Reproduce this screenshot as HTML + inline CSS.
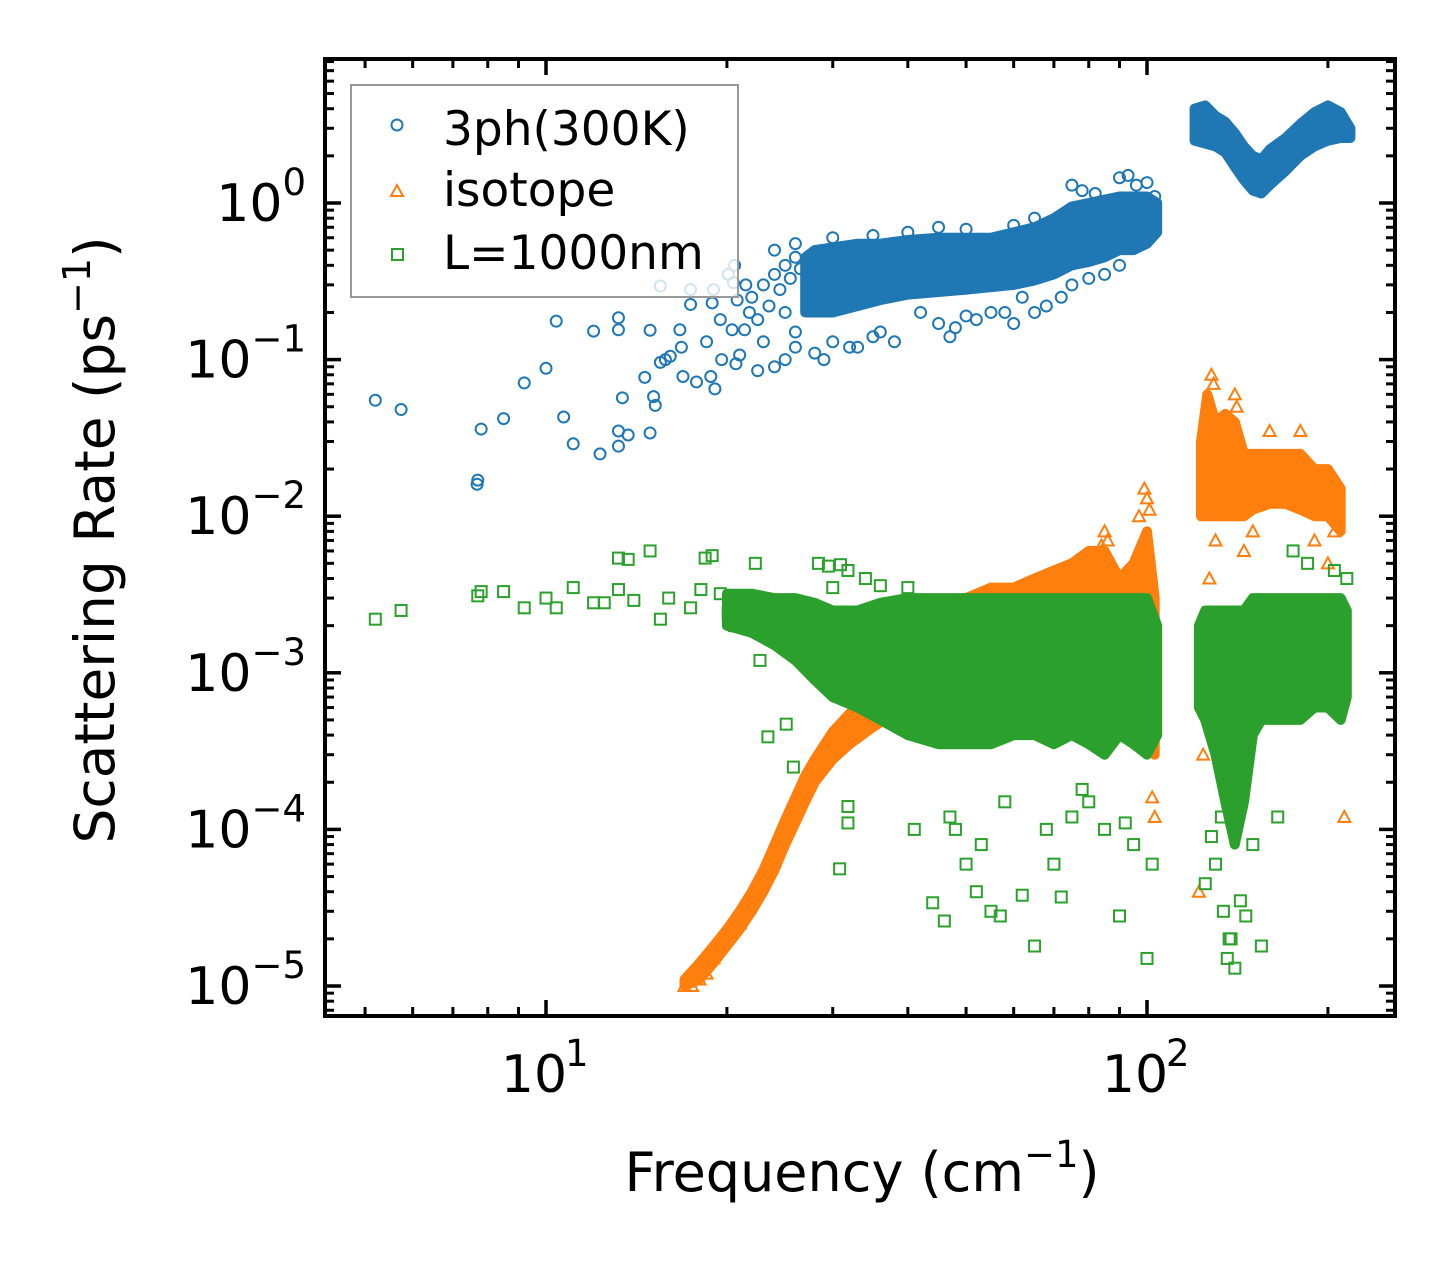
<!DOCTYPE html>
<html><head><meta charset="utf-8"><style>
html,body{margin:0;padding:0;background:#fff;}
svg{display:block;font-family:"DejaVu Sans","Liberation Sans",sans-serif;}
</style></head><body>
<svg id="chart" width="1455" height="1265" viewBox="0 0 1455 1265" xmlns="http://www.w3.org/2000/svg">
<rect x="0" y="0" width="1455" height="1265" fill="#fff"/>
<g id="marks"></g>
<g id="axes"></g>
<g id="legend">
<rect x="351" y="85" width="387" height="212" fill="#fff" fill-opacity="0.8" stroke="#999" stroke-width="2"/>
<g><circle cx="397" cy="125" r="5.5" fill="none" stroke="#1f77b4" stroke-width="2"/><text x="443" y="145" font-size="47" fill="#000">3ph(300K)</text></g>
<g><path d="M391,196 L397,185 L403,196 Z" fill="none" stroke="#ff7f0e" stroke-width="2"/><text x="443" y="206" font-size="47" fill="#000">isotope</text></g>
<g><rect x="392" y="249" width="11" height="11" fill="none" stroke="#2ca02c" stroke-width="2"/><text x="443" y="269" font-size="47" fill="#000">L=1000nm</text></g>
</g>
<text x="862" y="1191" font-size="54" text-anchor="middle">Frequency (cm<tspan font-size="37" dy="-24">−1</tspan><tspan dy="24">)</tspan></text>
<text transform="translate(114,540) rotate(-90)" x="0" y="0" font-size="55" text-anchor="middle">Scattering Rate (ps<tspan font-size="38" dy="-24">−1</tspan><tspan dy="24">)</tspan></text>
</svg>
<script>
// ---------- data ----------
const blueFreq=[5.2,5.74,7.68,7.7,7.8,8.5,9.2,10,10.4,10.7,11.1,12.0,12.3,13.2,13.2,13.2,13.2,13.7,13.4,14.9,15.1,15.2,14.9,15.5,15.8,15.5,16.1,14.6,16.7,16.8,17.4,17.4,16.9,17.8,18.5,18.9,19.0,18.8,19.1,19.5,19.6,20.1,20.5,20.6,20.8,20.4,21.0,20.7,21.4,21.8,24,25,26,28,30,32,35,38,45,48,50,52,55,60,65,68,72,75,80,85,90,75,78,82,90,93,96,100,103,26,30,35,40,45,50,60,65,23,22.5,29,33,36,42,47,58,62,22,23,24,25,26,22.5,23.5,24.5,25.5,26.5,21.5,24,25,26];
const blueRate=[0.055,0.048,0.016,0.017,0.036,0.042,0.071,0.088,0.176,0.043,0.029,0.152,0.025,0.185,0.155,0.035,0.028,0.033,0.057,0.034,0.058,0.051,0.154,0.096,0.1,0.295,0.105,0.077,0.155,0.12,0.28,0.225,0.078,0.072,0.13,0.23,0.28,0.078,0.065,0.18,0.1,0.35,0.31,0.4,0.24,0.155,0.107,0.094,0.155,0.2,0.09,0.1,0.12,0.11,0.13,0.12,0.14,0.13,0.17,0.16,0.19,0.18,0.2,0.17,0.2,0.22,0.25,0.3,0.33,0.35,0.4,1.3,1.2,1.15,1.45,1.5,1.3,1.35,1.1,0.55,0.6,0.62,0.65,0.7,0.68,0.72,0.8,0.13,0.085,0.1,0.12,0.15,0.2,0.14,0.2,0.25,0.25,0.3,0.35,0.4,0.45,0.18,0.22,0.28,0.33,0.38,0.3,0.5,0.2,0.15];
const blueBandFreq=[27,28,30,33,36,40,45,50,55,60,65,70,75,80,85,90,95,100,104];
const blueBandLo=[0.2,0.2,0.2,0.22,0.24,0.26,0.27,0.28,0.29,0.3,0.32,0.35,0.4,0.42,0.45,0.5,0.5,0.55,0.65];
const blueBandHi=[0.45,0.5,0.52,0.55,0.55,0.58,0.6,0.6,0.6,0.65,0.7,0.8,0.95,1.0,1.05,1.1,1.1,1.1,1.0];
const blueHiFreq=[120,125,130,135,140,145,150,155,160,170,180,190,200,210,218];
const blueHiLo=[2.5,2.4,2.3,2.1,1.7,1.4,1.2,1.15,1.3,1.6,2.0,2.3,2.5,2.6,2.6];
const blueHiHi=[4.0,4.2,3.6,3.3,2.8,2.3,2.0,1.9,2.2,2.6,3.2,3.8,4.2,3.8,3.0];

const orangeFreq=[17,17.5,18,18.5,19,20,21,85,86,84,99,100,97,101,102,103,128,129,140,141,160,180,213,122,124,127,130,145,150,190,200,205];
const orangeRate=[1e-5,1e-5,1.1e-5,1.2e-5,1.5e-5,2e-5,2.5e-5,8e-3,7e-3,6.5e-3,1.5e-2,1.3e-2,1e-2,1.1e-2,1.6e-4,1.2e-4,8e-2,7e-2,6e-2,5e-2,3.5e-2,3.5e-2,1.2e-4,4e-5,3e-4,4e-3,7e-3,6e-3,8e-3,7e-3,5e-3,8e-3];
const orangeBandFreq=[17,18,19,20,21,22,23,24,25,26,27,28,30,32,35,38,40,45,50,55,60,65,70,75,80,85,90,95,100,103];
const orangeBandLo=[1e-5,1.1e-5,1.4e-5,1.8e-5,2.3e-5,3e-5,4e-5,5.5e-5,8e-5,1.1e-4,1.5e-4,2e-4,2.8e-4,3.5e-4,4.5e-4,5.5e-4,6e-4,7e-4,8e-4,8e-4,8e-4,8e-4,8e-4,8e-4,8e-4,8e-4,8e-4,8e-4,5e-4,3e-4];
const orangeBandHi=[1.1e-5,1.4e-5,1.8e-5,2.3e-5,3e-5,4e-5,5.5e-5,8e-5,1.15e-4,1.6e-4,2.2e-4,2.8e-4,4.2e-4,5.5e-4,7e-4,1e-3,1.5e-3,2.5e-3,3e-3,3.5e-3,3.5e-3,4e-3,4.5e-3,5e-3,6e-3,6e-3,4e-3,5e-3,8e-3,3e-3];
const orangeHiFreq=[123,126,130,135,140,145,150,160,170,180,190,200,210];
const orangeHiLo=[1e-2,1e-2,1e-2,1e-2,1e-2,1e-2,1.1e-2,1.2e-2,1.2e-2,1.1e-2,1e-2,1e-2,8e-3];
const orangeHiHi=[3e-2,6e-2,4e-2,4.5e-2,4e-2,2.5e-2,2.5e-2,2.5e-2,2.5e-2,2.5e-2,2e-2,2e-2,1.5e-2];

const greenFreq=[5.2,5.74,7.7,7.8,8.5,9.2,10,10.4,11.1,12,13.2,13.7,14.9,13.2,15.5,17.4,18.1,18.4,18.9,20.1,20.6,22.3,22.7,23.4,25.8,25.1,28.4,29.5,30.9,31.8,30.8,31.8,31.8,12.5,14,16,19.5,21,24,27,30,34,36,40,41,44,46,48,50,52,55,58,62,65,68,72,75,80,85,90,95,100,102,47,53,57,70,78,92,125,128,130,134,136,138,140,143,146,150,155,165,175,185,205,215,133,137];
const greenRate=[2.2e-3,2.5e-3,3.1e-3,3.3e-3,3.3e-3,2.6e-3,3e-3,2.6e-3,3.5e-3,2.8e-3,5.4e-3,5.3e-3,6e-3,3.4e-3,2.2e-3,2.6e-3,3.4e-3,5.4e-3,5.6e-3,2.4e-3,2e-3,5e-3,1.2e-3,3.9e-4,2.5e-4,4.7e-4,5e-3,4.8e-3,4.9e-3,4.5e-3,5.6e-5,1.4e-4,1.1e-4,2.8e-3,2.9e-3,3e-3,3.2e-3,2.9e-3,2.5e-3,2e-3,3.5e-3,4e-3,3.6e-3,3.5e-3,1e-4,3.4e-5,2.6e-5,1e-4,6e-5,4e-5,3e-5,1.5e-4,3.8e-5,1.8e-5,1e-4,3.7e-5,1.2e-4,1.5e-4,1e-4,2.8e-5,8e-5,1.5e-5,6e-5,1.2e-4,8e-5,2.8e-5,6e-5,1.8e-4,1.1e-4,4.5e-5,9e-5,6e-5,3e-5,1.5e-5,2e-5,1.3e-5,3.5e-5,2.8e-5,8e-5,1.8e-5,1.2e-4,6e-3,5e-3,4.5e-3,4e-3,1.2e-4,2e-5];
const greenBandFreq=[20,22,24,26,28,30,33,36,40,45,50,55,60,65,70,75,80,85,90,95,100,104];
const greenBandLo=[2e-3,1.8e-3,1.5e-3,1.2e-3,9e-4,7e-4,6e-4,5e-4,4e-4,3.5e-4,3.5e-4,3.5e-4,4e-4,4e-4,3.5e-4,4e-4,3.5e-4,3e-4,4e-4,3.5e-4,3e-4,4e-4];
const greenBandHi=[3.2e-3,3.2e-3,3e-3,3e-3,2.8e-3,2.5e-3,2.5e-3,2.8e-3,3e-3,3e-3,3e-3,3e-3,3e-3,3e-3,3e-3,3e-3,3e-3,3e-3,3e-3,3e-3,3e-3,2e-3];
const greenHiFreq=[122,125,130,135,140,145,150,155,160,170,180,190,200,210,215];
const greenHiLo=[6e-4,5e-4,3e-4,1.5e-4,8e-5,1.5e-4,4e-4,5e-4,5e-4,5e-4,5e-4,6e-4,6e-4,5e-4,7e-4];
const greenHiHi=[2e-3,2.5e-3,2.5e-3,2.5e-3,2.5e-3,2.5e-3,3e-3,3e-3,3e-3,3e-3,3e-3,3e-3,3e-3,3e-3,2.5e-3];

const xMajorTicks=[10,100];
const xTickLabels=["1","2"];
const yMajorTicks=[1,0.1,0.01,0.001,0.0001,0.00001];
const yTickLabels=["0","−1","−2","−3","−4","−5"];

// ---------- axes ----------
const L=325,R=1395,T=59,B=1016;
const X10=546,XDEC=601,Y1=203,YDEC=156.6;
function xs(f){return X10+(Math.log10(f)-1)*XDEC;}
function ys(r){return Y1-Math.log10(r)*YDEC;}
const NS="http://www.w3.org/2000/svg";
const marks=document.getElementById('marks');
const axes=document.getElementById('axes');
function mk(tag,attrs,parent){const e=document.createElementNS(NS,tag);for(const k in attrs)e.setAttribute(k,attrs[k]);parent.appendChild(e);return e;}

const clip=mk('clipPath',{id:'pc'},marks);mk('rect',{x:L,y:T,width:R-L,height:B-T},clip);
marks.setAttribute('clip-path','url(#pc)');

function band(fr,lo,hi,color,name){
  let d='';
  for(let i=0;i<fr.length;i++)d+=(i?'L':'M')+xs(fr[i]).toFixed(1)+','+ys(hi[i]).toFixed(1);
  for(let i=fr.length-1;i>=0;i--)d+='L'+xs(fr[i]).toFixed(1)+','+ys(lo[i]).toFixed(1);
  const p=mk('path',{d:d+'Z',fill:color,stroke:color,'stroke-width':10,'stroke-linejoin':'round'},marks);
  
  
}
function pts(fr,rt,shape,color,name){
  for(let i=0;i<fr.length;i++){
    const x=xs(fr[i]),y=ys(rt[i]);let e;
    if(shape==='c')e=mk('circle',{cx:x,cy:y,r:5.5,fill:'none',stroke:color,'stroke-width':2},marks);
    else if(shape==='t')e=mk('path',{d:`M${x-6},${y+5}L${x},${y-6}L${x+6},${y+5}Z`,fill:'none',stroke:color,'stroke-width':2},marks);
    else e=mk('rect',{x:x-5.5,y:y-5.5,width:11,height:11,fill:'none',stroke:color,'stroke-width':2},marks);
    
    
  }
}
const CB='#1f77b4',CO='#ff7f0e',CG='#2ca02c';
band(blueBandFreq,blueBandLo,blueBandHi,CB,'3ph-dense-band');
band(blueHiFreq,blueHiLo,blueHiHi,CB,'3ph-high-band');
pts(blueFreq,blueRate,'c',CB,'3ph-point');
band(orangeBandFreq,orangeBandLo,orangeBandHi,CO,'isotope-dense-band');
band(orangeHiFreq,orangeHiLo,orangeHiHi,CO,'isotope-high-band');
pts(orangeFreq,orangeRate,'t',CO,'isotope-point');
band(greenBandFreq,greenBandLo,greenBandHi,CG,'boundary-dense-band');
band(greenHiFreq,greenHiLo,greenHiHi,CG,'boundary-high-band');
pts(greenFreq,greenRate,'s',CG,'boundary-point');

// frame
const fr=mk('rect',{x:L,y:T,width:R-L,height:B-T,fill:'none',stroke:'#000','stroke-width':4},axes);


function tick(x1,y1,x2,y2,w,name){const t=mk('line',{x1,y1,x2,y2,stroke:'#000','stroke-width':w},axes);}
for(let d=1;d<=100;d*=10){for(let m=1;m<10;m++){const v=d*m;const x=xs(v);if(x<L+2||x>R-2)continue;const maj=(m===1);const len=maj?16:9;
  tick(x,B,x,B-len,maj?3.5:3,maj?'x-major-tick':'x-minor-tick');tick(x,T,x,T+len,maj?3.5:3,maj?'x-major-tick-top':'x-minor-tick-top');}}
xMajorTicks.forEach((v,i)=>{const t=mk('text',{x:xs(v)-12,y:1092,'font-size':52,'text-anchor':'middle'},axes);t.textContent='10';
  
  const s=mk('text',{x:xs(v)+19,y:1066,'font-size':37,'text-anchor':'start'},axes);s.textContent=xTickLabels[i];
  });
for(let e=-6;e<=0;e++){for(let m=1;m<10;m++){const v=m*Math.pow(10,e);const y=ys(v);if(y<T+2||y>B-2)continue;const maj=(m===1);const len=maj?16:9;
  tick(L,y,L+len,y,maj?3.5:3,maj?'y-major-tick':'y-minor-tick');tick(R,y,R-len,y,maj?3.5:3,maj?'y-major-tick-right':'y-minor-tick-right');}}
yMajorTicks.forEach((v,i)=>{const y=ys(v);const g=mk('text',{x:306,y:y+18,'font-size':52,'text-anchor':'end'},axes);
  
  const a=mk('tspan',{},g);a.textContent='10';const b=mk('tspan',{'font-size':37,dy:-26},g);b.textContent=yTickLabels[i];});
</script>
</body></html>
